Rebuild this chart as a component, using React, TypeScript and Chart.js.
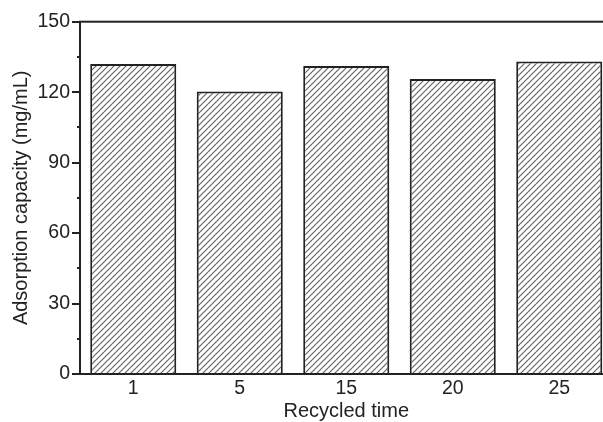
import React, { useEffect, useRef } from "react";
import { Chart, registerables } from "chart.js";

Chart.register(...registerables);

const categories: string[] = ["1", "5", "15", "20", "25"];
const capacity: number[] = [132.0, 120.3, 131.1, 125.6, 133.1];
const yMin = 0;
const yMax = 150;
const yStep = 15;
const yLabelStep = 30;
const xTitle = "Recycled time";
const yTitle = "Adsorption capacity (mg/mL)";

const CANVAS_W = 640;
const CANVAS_H = 422;
const FONT = "'Liberation Sans', Arial, sans-serif";
const INK = "#222";

function makeHatch(): CanvasPattern | string {
  const s = 6;
  const c = document.createElement("canvas");
  c.width = s;
  c.height = s;
  const g = c.getContext("2d");
  if (!g) return "#ddd";
  g.fillStyle = "#ffffff";
  g.fillRect(0, 0, s, s);
  g.strokeStyle = "#666";
  g.lineWidth = 1.2;
  g.beginPath();
  g.moveTo(-1, s + 1);
  g.lineTo(s + 1, -1);
  g.moveTo(-1, 1);
  g.lineTo(1, -1);
  g.moveTo(s - 1, s + 1);
  g.lineTo(s + 1, s - 1);
  g.stroke();
  const p = g.createPattern(c, "repeat");
  return p || "#ddd";
}

const framePlugin = {
  id: "frameTicks",
  afterDatasetsDraw(chart: any) {
    const { ctx, chartArea } = chart;
    const y = chart.scales.y;
    ctx.save();
    ctx.strokeStyle = INK;
    ctx.lineWidth = 2;
    ctx.strokeRect(chartArea.left, chartArea.top, chartArea.right - chartArea.left, chartArea.bottom - chartArea.top);
    ctx.beginPath();
    for (const t of y.ticks) {
      const py = Math.round(y.getPixelForValue(t.value));
      const major = t.value % yLabelStep === 0;
      const len = major ? 8 : 3;
      ctx.moveTo(chartArea.left - len, py);
      ctx.lineTo(chartArea.left, py);
    }
    ctx.stroke();
    ctx.restore();
  },
};

export default function App() {
  const ref = useRef<HTMLCanvasElement | null>(null);

  useEffect(() => {
    const canvas = ref.current;
    if (!canvas) return;
    const hatch = makeHatch();
    const chart = new Chart(canvas, {
      type: "bar",
      data: {
        labels: categories,
        datasets: [
          {
            data: capacity,
            backgroundColor: hatch as any,
            borderColor: INK,
            borderWidth: 2,
            barPercentage: 0.808,
            categoryPercentage: 1,
          },
        ],
      },
      plugins: [framePlugin],
      options: {
        animation: false,
        responsive: false,
        devicePixelRatio: 1,
        layout: { padding: { top: 20, right: CANVAS_W - 612.5, left: 0, bottom: 0 } },
        plugins: { legend: { display: false }, tooltip: { enabled: false } },
        scales: {
          x: {
            offset: true,
            grid: { display: false, drawTicks: false },
            border: { display: false },
            ticks: { color: INK, padding: 3, font: { family: FONT, size: 19.5 } },
            title: {
              display: true,
              text: xTitle,
              color: INK,
              font: { family: FONT, size: 20, lineHeight: 1 },
              padding: { top: 0, bottom: 1 },
            },
            afterFit: (s: any) => {
              s.height = 48;
            },
          },
          y: {
            min: yMin,
            max: yMax,
            grid: { display: false, drawTicks: false },
            border: { display: false },
            ticks: {
              stepSize: yStep,
              color: INK,
              padding: 10,
              font: { family: FONT, size: 19.5 },
              callback: (v: any) => (Number(v) % yLabelStep === 0 ? String(v) : ""),
            },
            title: {
              display: true,
              text: yTitle,
              color: INK,
              font: { family: FONT, size: 20, lineHeight: 1 },
              padding: { top: 11, bottom: 0 },
            },
            afterFit: (s: any) => {
              s.width = 80;
            },
          },
        },
      },
    });
    return () => chart.destroy();
  }, []);

  return (
    <div
      style={{
        position: "fixed",
        left: 0,
        top: 0,
        width: 603,
        height: 422,
        overflow: "hidden",
        background: "#fff",
      }}
    >
      <canvas ref={ref} width={CANVAS_W} height={CANVAS_H} style={{ width: CANVAS_W, height: CANVAS_H, display: "block" }} />
    </div>
  );
}
